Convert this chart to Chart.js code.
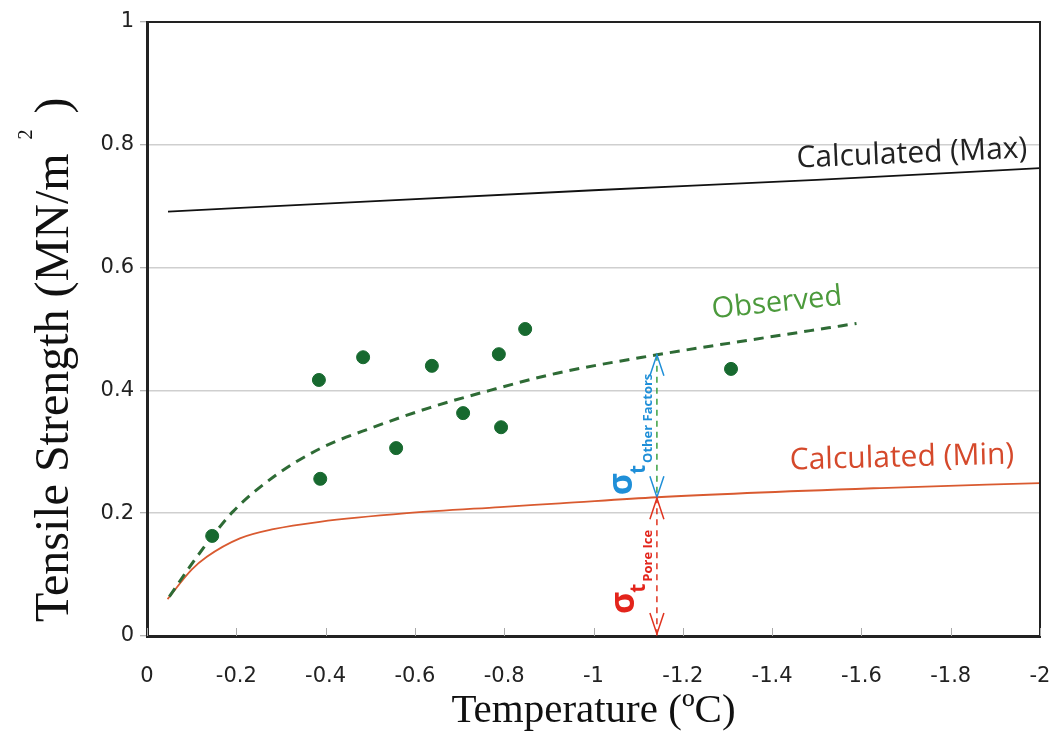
<!DOCTYPE html>
<html>
<head>
<meta charset="utf-8">
<title>Tensile Strength vs Temperature</title>
<script src="https://cdn.jsdelivr.net/npm/chart.js@4/dist/chart.umd.min.js"></script>
<style>
  html, body { margin: 0; padding: 0; background: #fff; }
  #strengthChart { display: block; }
</style>
</head>
<body>
<canvas id="strengthChart" width="1061" height="740"></canvas>
<script>
// observed samples (temperature in degC, strength in MN/m2)
const obsTemp = [-0.146, -0.385, -0.388, -0.484, -0.558, -0.638, -0.708, -0.788, -0.793, -0.847, -1.308]
const obsStrength = [0.163, 0.417, 0.256, 0.454, 0.306, 0.440, 0.363, 0.459, 0.340, 0.500, 0.435]

// observed trend (dashed)
const fitTemp = [-0.05, -0.096, -0.146, -0.193, -0.283, -0.387, -0.507, -0.634, -0.768, -0.918, -1.142, -1.35, -1.589]
const fitStrength = [0.064, 0.113, 0.162, 0.203, 0.259, 0.305, 0.34, 0.372, 0.4, 0.428, 0.458, 0.482, 0.509]

// calculated (min)
const minTemp = [-0.046, -0.1, -0.134, -0.208, -0.283, -0.387, -0.582, -0.791, -0.925, -1.142, -1.642, -2.0]
const minStrength = [0.06, 0.108, 0.129, 0.159, 0.174, 0.186, 0.2, 0.21, 0.216, 0.226, 0.241, 0.249]

// calculated (max)
const maxTemp = [-0.047, -0.5, -1.0, -1.5, -2.0]
const maxStrength = [0.691, 0.708, 0.726, 0.743, 0.762]

// where the sigma arrows sit
const arrowTemp = -1.142
const arrowTop = 0.458
const arrowMid = 0.226

const xTickStep = 0.2
const yTickStep = 0.2

const tickFont = "'DejaVu Sans', Verdana, sans-serif"
const serifFont = "'Liberation Serif', 'Times New Roman', serif"

function toPoints(xs, ys) {
  return xs.map((x, i) => ({ x, y: ys[i] }))
}

function tickLabel(v) {
  return String(Number(v.toFixed(1)))
}

function drawHead(ctx, x, y, dir) {
  // open V arrowhead, dir -1 = points up, 1 = points down
  ctx.beginPath()
  ctx.moveTo(x - 7, y - dir * 21)
  ctx.lineTo(x, y)
  ctx.lineTo(x + 7, y - dir * 21)
  ctx.stroke()
}

function drawSigma(ctx, px, py, sub, color, tDown, subDown) {
  ctx.save()
  ctx.translate(px, py)
  ctx.rotate(-Math.PI / 2)
  ctx.fillStyle = color
  ctx.textAlign = 'left'
  ctx.textBaseline = 'alphabetic'
  ctx.font = 'bold 34px "Open Sans"'
  ctx.fillText('σ', 0, 0)
  let w = ctx.measureText('σ').width - 1
  ctx.font = 'bold 21px "Open Sans"'
  ctx.fillText('t', w, tDown)
  w += ctx.measureText('t').width + 2
  ctx.font = 'bold 13px "Open Sans"'
  ctx.fillText(sub, w, subDown)
  ctx.restore()
}

function drawLabel(ctx, text, px, py, angle, color, size) {
  ctx.save()
  ctx.translate(px, py)
  ctx.rotate(angle * Math.PI / 180)
  ctx.fillStyle = color
  ctx.font = size + 'px "Open Sans"'
  ctx.textAlign = 'center'
  ctx.textBaseline = 'middle'
  ctx.fillText(text, 0, 0)
  ctx.restore()
}

function drawYTitle(ctx, chartArea) {
  // vertical title with a raised "2", like the original
  ctx.save()
  ctx.translate(68, chartArea.bottom - 14)
  ctx.rotate(-Math.PI / 2)
  ctx.fillStyle = '#111'
  ctx.textAlign = 'left'
  ctx.textBaseline = 'alphabetic'
  ctx.font = '48px ' + serifFont
  const main = 'Tensile Strength (MN/m'
  ctx.fillText(main, 0, 0)
  let w = ctx.measureText(main).width + 14
  ctx.font = '20px ' + serifFont
  ctx.fillText('2', w, -36)
  w += ctx.measureText('2').width + 16
  ctx.font = '48px ' + serifFont
  ctx.fillText(')', w, 0)
  ctx.restore()
}

const overlayPlugin = {
  id: 'overlay',
  afterDatasetsDraw(chart) {
    const { ctx, chartArea, scales } = chart
    const x = scales.x
    const y = scales.y
    ctx.save()

    // frame on top / right
    ctx.strokeStyle = '#222'
    ctx.lineWidth = 2
    ctx.strokeRect(chartArea.left, chartArea.top, chartArea.right - chartArea.left, chartArea.bottom - chartArea.top)

    // small inward ticks on the x axis
    ctx.strokeStyle = '#aaa'
    ctx.lineWidth = 1
    x.ticks.forEach((t) => {
      const px = Math.round(x.getPixelForValue(t.value)) + 0.5
      ctx.beginPath()
      ctx.moveTo(px, chartArea.bottom)
      ctx.lineTo(px, chartArea.bottom - 8)
      ctx.stroke()
    })

    // sigma arrows
    const ax = x.getPixelForValue(arrowTemp)
    const yTop = y.getPixelForValue(arrowTop)
    const yMid = y.getPixelForValue(arrowMid)
    const yBot = y.getPixelForValue(0)
    ctx.lineWidth = 1.5
    ctx.setLineDash([6, 5])
    ctx.strokeStyle = '#3aa043'
    ctx.beginPath()
    ctx.moveTo(ax, yTop)
    ctx.lineTo(ax, yMid)
    ctx.stroke()
    ctx.strokeStyle = '#e0331f'
    ctx.beginPath()
    ctx.moveTo(ax, yMid)
    ctx.lineTo(ax, yBot)
    ctx.stroke()
    ctx.setLineDash([])
    ctx.strokeStyle = '#1f8fd8'
    drawHead(ctx, ax, yTop, -1)
    drawHead(ctx, ax, yMid, 1)
    ctx.strokeStyle = '#e0331f'
    drawHead(ctx, ax, yMid + 1, -1)
    drawHead(ctx, ax, yBot - 2, 1)

    drawSigma(ctx, ax - 25, yMid - 2, 'Other Factors', '#1f8fd8', 13, 20)
    drawSigma(ctx, ax - 23, yBot - 22, 'Pore Ice', '#e3241b', 11, 18)

    // curve labels
    drawLabel(ctx, 'Calculated (Max)', x.getPixelForValue(-1.713), y.getPixelForValue(0.785), -2.5, '#222', 30)
    drawLabel(ctx, 'Observed', x.getPixelForValue(-1.411), y.getPixelForValue(0.542), -6, '#4c9a3c', 29)
    drawLabel(ctx, 'Calculated (Min)', x.getPixelForValue(-1.691), y.getPixelForValue(0.29), -1.5, '#d5492b', 30)

    drawYTitle(ctx, chartArea)
    ctx.restore()
  },
}

const canvas = document.getElementById('strengthChart')
const ctx = canvas.getContext('2d')

new Chart(ctx, {
  type: 'scatter',
  data: {
    datasets: [
      {
        label: 'Observed samples',
        data: toPoints(obsTemp, obsStrength),
        backgroundColor: '#17692f',
        borderColor: '#17692f',
        pointRadius: 6.5,
        showLine: false,
      },
      {
        label: 'Observed',
        data: toPoints(fitTemp, fitStrength),
        showLine: true,
        borderColor: '#2e6b35',
        borderWidth: 3,
        borderDash: [10, 7],
        pointRadius: 0,
        cubicInterpolationMode: 'monotone',
      },
      {
        label: 'Calculated (Min)',
        data: toPoints(minTemp, minStrength),
        showLine: true,
        borderColor: '#d95a30',
        borderWidth: 1.8,
        pointRadius: 0,
        cubicInterpolationMode: 'monotone',
      },
      {
        label: 'Calculated (Max)',
        data: toPoints(maxTemp, maxStrength),
        showLine: true,
        borderColor: '#111',
        borderWidth: 1.8,
        pointRadius: 0,
        cubicInterpolationMode: 'monotone',
      },
    ],
  },
  options: {
    responsive: false,
    animation: false,
    devicePixelRatio: 1,
    layout: { padding: { top: 22, right: 21, left: 0, bottom: 0 } },
    plugins: {
      legend: { display: false },
      tooltip: { enabled: false },
    },
    scales: {
      x: {
        type: 'linear',
        min: -2,
        max: 0,
        reverse: true,
        afterFit: (s) => {
          s.height = 104
          s.paddingLeft = 0
          s.paddingRight = 0
        },
        border: { display: true, color: '#222', width: 3 },
        grid: { display: false, drawTicks: false },
        ticks: {
          stepSize: xTickStep,
          padding: 28,
          color: '#222',
          callback: tickLabel,
          font: { family: tickFont, size: 21 },
        },
        title: {
          display: true,
          text: 'Temperature (ºC)',
          color: '#111',
          font: { family: serifFont, size: 41 },
          padding: { top: 0, bottom: 4 },
        },
      },
      y: {
        min: 0,
        max: 1,
        afterFit: (s) => {
          s.width = 147
          s.paddingTop = 0
          s.paddingBottom = 0
        },
        border: { display: true, color: '#222', width: 3 },
        grid: { color: '#cfcfcf', lineWidth: 1.5, tickLength: 7, tickColor: '#999', tickWidth: 1 },
        ticks: {
          stepSize: yTickStep,
          padding: 6,
          color: '#222',
          callback: tickLabel,
          font: { family: tickFont, size: 21 },
        },
        title: { display: false },
      },
    },
  },
  plugins: [overlayPlugin],
})
</script>
</body>
</html>
